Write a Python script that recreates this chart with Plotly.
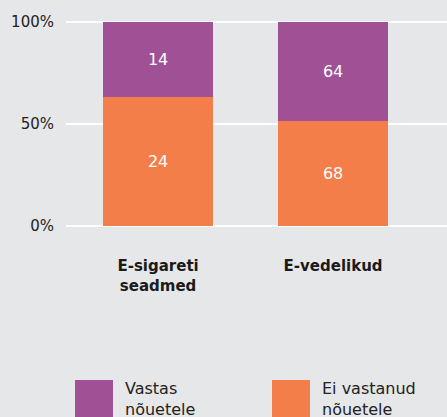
import plotly.graph_objects as go

# ---- data ----
categories = ["E-sigareti<br>seadmed", "E-vedelikud"]
ei_vastanud = [24, 68]          # did not comply (orange, bottom)
vastas = [14, 64]               # complied (purple, top)
series_names = ["Ei vastanud<br>nõuetele", "Vastas<br>nõuetele"]
y_ticks = [0, 50, 100]
y_tick_labels = ["0%", "50%", "100%"]

# ---- styles ----
W, H = 447, 417
ORANGE = "#f47e4a"
PURPLE = "#a05195"
BG = "#e6e7e8"
FONT = "DejaVu Sans"
ML, MR, MT, MB = 66, 0, 16, 187

fig = go.Figure()
fig.add_trace(go.Bar(
    x=categories, y=ei_vastanud, name=series_names[0],
    marker=dict(color=ORANGE, line=dict(width=0)),
    text=ei_vastanud, texttemplate="%{text}", textposition="inside",
    insidetextanchor="middle", textfont=dict(color="white", size=16, family=FONT),
    width=0.63, hoverinfo="skip",
))
fig.add_trace(go.Bar(
    x=categories, y=vastas, name=series_names[1],
    marker=dict(color=PURPLE, line=dict(width=0)),
    text=vastas, texttemplate="%{text}", textposition="inside",
    insidetextanchor="middle", textfont=dict(color="white", size=16, family=FONT),
    width=0.63, hoverinfo="skip",
))

plot_w = W - ML - MR
plot_h = H - MT - MB


def px_x(x):
    return (x - ML) / plot_w


def px_y(y):
    return (H - MB - y) / plot_h


# legend drawn as swatches + text (purple first, then orange)
legend_items = [(series_names[1], PURPLE, 75, 123), (series_names[0], ORANGE, 272, 320)]
shapes = []
annotations = []
for name, col, sx, tx in legend_items:
    shapes.append(dict(type="rect", xref="paper", yref="paper",
                       x0=px_x(sx), x1=px_x(sx + 38), y0=px_y(380), y1=px_y(420),
                       fillcolor=col, line=dict(width=0)))
    annotations.append(dict(xref="paper", yref="paper", x=px_x(tx), y=px_y(377),
                            xanchor="left", yanchor="top", align="left",
                            text=name, showarrow=False,
                            font=dict(family=FONT, size=16, color="#222222")))

fig.update_layout(
    width=W, height=H,
    margin=dict(l=ML, r=MR, t=MT, b=MB, pad=0),
    barmode="stack", barnorm="percent",
    paper_bgcolor=BG, plot_bgcolor=BG,
    showlegend=False,
    font=dict(family=FONT, color="#222222"),
    shapes=shapes, annotations=annotations,
    xaxis=dict(range=[-0.526, 1.651], showgrid=False, zeroline=False,
               showline=False, ticks="", ticklabelstandoff=25,
               tickfont=dict(family=FONT, size=15, color="#1a1a1a", weight="bold")),
    yaxis=dict(range=[-2, 103], tickvals=y_ticks, ticktext=y_tick_labels,
               showgrid=True, gridcolor="white", gridwidth=2,
               zeroline=False, showline=False, ticks="", ticklabelstandoff=11,
               tickfont=dict(family=FONT, size=15, color="#222222")),
)

fig.write_html(
    "out.html",
    config={"displayModeBar": False, "staticPlot": True},
    post_script="document.body.style.margin='0';document.body.style.background='%s';document.body.style.overflow='hidden';" % BG,
)
